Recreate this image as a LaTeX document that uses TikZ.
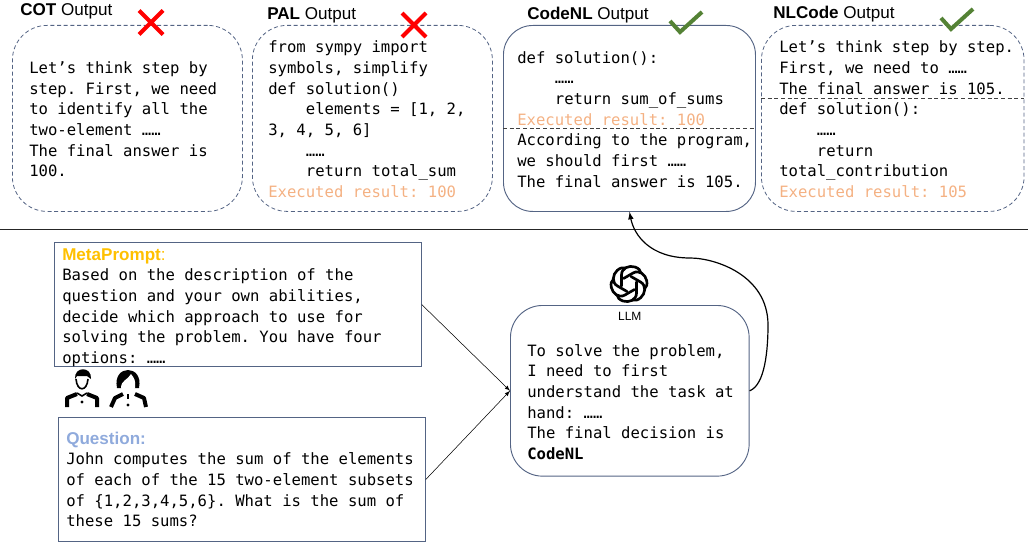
\documentclass[tikz,border=0pt]{standalone}
\usepackage{fontspec}
\setmainfont{Liberation Sans}
\newfontfamily\codefont{DejaVu Sans Mono}
\usetikzlibrary{positioning}
\frenchspacing
\definecolor{boxclr}{RGB}{84, 100, 132}
\definecolor{resclr}{RGB}{244, 177, 131}
\definecolor{metaclr}{RGB}{255, 192, 0}
\definecolor{quesclr}{RGB}{143, 170, 220}
\definecolor{okclr}{RGB}{84, 130, 53}
\newcommand{\ind}{\hspace*{28.2pt}}
\newcommand{\res}[1]{\textcolor{resclr}{#1}}
\newcommand{\head}[1]{{\fontspec{Liberation Sans}\fontsize{12.8}{15.5}\selectfont #1}}
\tikzset{ %
  ,>=latex
  ,code/.style={font=\codefont\fontsize{11.7}{15.5}\selectfont, align=flush left, inner sep=0, anchor=west}
  ,toptext/.style={code, yshift=-0.75pt}
  ,output/.style={draw=boxclr, line width=0.6pt, densely dashed, rounded corners=26pt, minimum height=139.5pt, anchor=north west, inner sep=0}
  ,chosen/.style={output, solid, line width=0.7pt, rounded corners=22pt}
  ,prompt/.style={draw=boxclr, line width=0.8pt, minimum width=275pt, minimum height=93pt, anchor=north west, inner sep=0}
  ,otitle/.style={font=\fontsize{12.8}{15}\selectfont, inner sep=0, anchor=west}
  ,wrong/.style={draw=red, line width=3pt}
  ,right answer/.style={draw=okclr, line width=3pt}
  ,split/.style={densely dashed, draw=black!75}
  ,shoulder/.style={line width=3pt, line join=round}
}

\begin{document}
\begin{tikzpicture}[x=0.75pt, y=-0.75pt]
  \useasboundingbox (0,0) rectangle (1028,542);
  % output boxes
  \node[output, minimum width=172.5pt] (cot) at (12,25) {};
  \node[output, minimum width=180pt] (pal) at (252,25) {};
  \node[chosen, minimum width=189pt] (codenl) at (503,25) {};
  \node[output, minimum width=197pt] (nlcode) at (761,25) {};
  \node[toptext, right=12.75pt of cot.west] (cottext) {Let’s think step by\\step. First, we need\\to identify all the\\two-element ……\\The final answer is\\100.};
  \node[toptext, right=12pt of pal.west] (paltext) {from sympy import\\symbols, simplify\\def solution()\\\ind elements = [1, 2,\\3, 4, 5, 6]\\\ind ……\\\ind return total\_sum\\\res{Executed result: 100}};
  \node[toptext, right=10.5pt of codenl.west] (cnltext) {def solution():\\\ind ……\\\ind return sum\_of\_sums\\\res{Executed result: 100}\\According to the program,\\we should first ……\\The final answer is 105.};
  \node[toptext, right=13.5pt of nlcode.west] (nlctext) {Let’s think step by step.\\First, we need to ……\\The final answer is 105.\\def solution():\\\ind ……\\\ind return\\total\_contribution\\\res{Executed result: 105}};
  % titles
  \node[otitle] (cottitle) at (20,11) {\textbf{COT} Output};
  \node[otitle] (paltitle) at (267,15) {\textbf{PAL} Output};
  \node[otitle] (cnltitle) at (527,15) {\textbf{CodeNL} Output};
  \node[otitle] (nlctitle) at (773,14) {\textbf{NLCode} Output};
  % marks
  \foreach \cx/\cy in {151/22.5, 414/25} {
    \draw[wrong] (\cx-12,\cy-12) -- (\cx+12,\cy+12) (\cx-12,\cy+12) -- (\cx+12,\cy-12);
  }
  \foreach \cx/\cy in {680/32, 951/29} {
    \draw[right answer] (\cx-10,\cy-11) -- (\cx,\cy) -- (\cx+22,\cy-20);
  }
  % splits inside the boxes
  \draw[split] (codenl.west |- 0,128) -- (codenl.east |- 0,128);
  \draw[split] (nlcode.west |- 0,98) -- (nlcode.east |- 0,98);
  \draw[black!85, line width=0.7pt] (0,229) -- (1028,229);
  % prompts
  \node[prompt] (meta) at (54,242) {};
  \node[prompt] (ques) at (58,417) {};
  \node[code, right=6pt of meta.west, yshift=-2.25pt] (metatext) {\head{\textcolor{metaclr}{\textbf{MetaPrompt}:}}\\Based on the description of the\\question and your own abilities,\\decide which approach to use for\\solving the problem. You have four\\options: ……};
  \node[code, right=6pt of ques.west] (questext) {\head{\textcolor{quesclr}{\textbf{Question:}}}\\John computes the sum of the elements\\of each of the 15 two-element subsets\\of \{1,2,3,4,5,6\}. What is the sum of\\these 15 sums?};
  % llm
  \node[chosen, rounded corners=24pt, minimum width=179pt, minimum height=128pt] (llm) at (510,305) {};
  \node[code, right=12.75pt of llm.west, yshift=-8.4pt] (llmtext) {To solve the problem,\\I need to first\\understand the task at\\hand: ……\\The final decision is\\\textbf{CodeNL}};
  \node[inner sep=0, font=\fontsize{9}{11}\selectfont, below=5pt of llm.north] (llmlabel) {LLM};
  % logo
  \foreach \a in {0,60,...,300} {
    \begin{scope}[shift={(629,284)}, rotate=\a]
      \draw[line width=2pt, line cap=round] (-7.5,2) -- (-7.5,-9) .. controls (-7.5,-16) and (0,-19) .. (6,-17) .. controls (10,-15.5) and (11,-14) .. (12,-11);
    \end{scope}
  }
  % people
  \fill (75,379) .. controls (74,366) and (92,366) .. (91,379) -- (87,376) -- (77,376) -- cycle;
  \draw[line width=1.2pt] (76,379) .. controls (77,392) and (87,392) .. (88,379);
  \draw[shoulder] (67,407) -- (67,398) -- (77,394) (97,407) -- (97,398) -- (87,394);
  \draw[line width=1.2pt] (77,393) -- (82,396) -- (87,393);
  \fill (82,402) circle[radius=1.7];
  \fill (117,388) .. controls (112,364) and (144,364) .. (139,388) -- cycle;
  \fill[white] (121,388) .. controls (121,380) and (128,380) .. (131,374) .. controls (134,378) and (136,380) .. (135,388) .. controls (134,394) and (123,394) .. (121,388);
  \draw[shoulder] (111,407) -- (115,398) -- (123,394) (146,407) -- (144,398) -- (135,394);
  \draw[line width=1.6pt] (128,394) -- (128,399);
  \fill (128,405) circle[radius=1.7];
  % arrows
  \draw[->] (meta.east) -- (llm.west);
  \draw[->] (ques.east) -- (llm.west);
  \draw[->, line width=0.9pt] (llm.east) .. controls (765,385) and (768,350) .. (768,325) .. controls (768,275) and (715,258) .. (690,258) .. controls (650,258) and (634,235) .. (codenl.south);
\end{tikzpicture}
\end{document}
